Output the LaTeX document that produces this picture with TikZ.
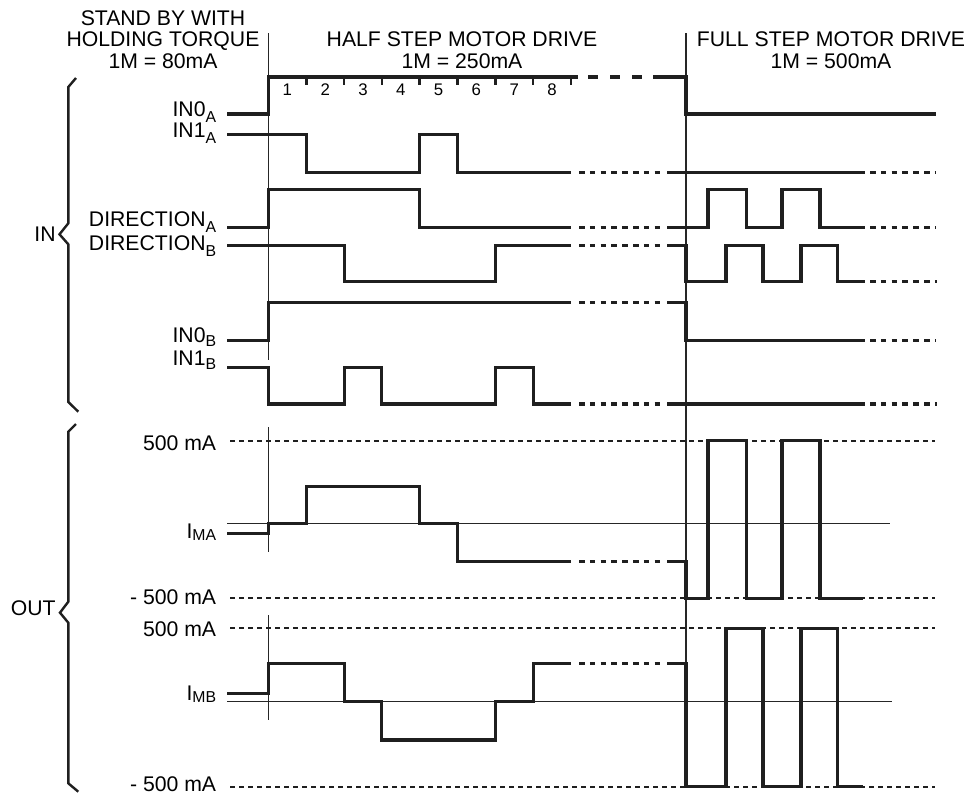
\documentclass[tikz,border=0pt]{standalone}
\usepackage{fontspec}
\setmainfont{Liberation Sans}
\newcommand{\lsub}[2][-2.6pt]{\raisebox{#1}{\fontsize{7.9}{8}\selectfont #2}}
\begin{document}
\begin{tikzpicture}[x=0.5pt,y=-0.5pt,
  sig/.style={line width=1.55pt, line join=miter, color=black!88},
  sigdash/.style={sig, dash pattern=on 2.8pt off 2.6pt},
  refdash/.style={line width=1.1pt, color=black!88, dash pattern=on 2.5pt off 2pt},
  thinline/.style={line width=0.6pt, color=black!85},
  bracestyle/.style={line width=1.2pt, line join=miter, color=black!88},
  lbl/.style={inner sep=0pt, anchor=base east, font=\fontsize{10.6}{12}\selectfont},
  malbl/.style={inner sep=0pt, anchor=east, font=\fontsize{10.6}{12}\selectfont},
  hdr/.style={inner sep=0pt, anchor=base, font=\fontsize{10.6}{12}\selectfont},
  numlbl/.style={inner sep=0pt, anchor=center, font=\fontsize{8.4}{10}\selectfont}]
\useasboundingbox (0,0) rectangle (971,793);
% time marks
\def\Tz{268.5}\def\Ta{306.3}\def\Tb{344.1}\def\Tc{381.9}\def\Td{419.7}
\def\Te{457.5}\def\Tf{495.3}\def\Tg{533.1}\def\Th{570.9}
\def\Fz{686}\def\Aa{708}\def\Ab{746.5}\def\Ac{782}\def\Ad{820}
\def\Ba{726}\def\Bb{763}\def\Bc{801}\def\Bd{837.5}
% headers
\node[hdr] (h1) at (163,25) {STAND BY WITH};
\node[hdr] (h2) at (163,46.7) {HOLDING TORQUE};
\node[hdr] (h3) at (163,68.3) {1M = 80mA};
\node[hdr] (h4) at (462,46.7) {HALF STEP MOTOR DRIVE};
\node[hdr] (h5) at (462,68.3) {1M = 250mA};
\node[hdr] (h6) at (831,46.7) {FULL STEP MOTOR DRIVE};
\node[hdr] (h7) at (831,68.3) {1M = 500mA};
% vertical thin lines
\draw[thinline] (\Tz,33) -- (\Tz,360);
\draw[thinline] (\Tz,427) -- (\Tz,552);
\draw[thinline] (\Tz,615) -- (\Tz,720);
\draw[thinline] (\Fz,33) -- (\Fz,787);
% reference lines for currents
\draw[thinline] (227,523.3) -- (890,523.3);
\draw[thinline] (227,701.7) -- (892,701.7);
\draw[refdash] (230,440.7) -- (935,440.7);
\draw[refdash] (230,598.3) -- (935,598.3);
\draw[refdash] (230,628.3) -- (935,628.3);
\draw[refdash] (230,786.7) -- (935,786.7);
% braces
\draw[bracestyle] (76,78) -- (68.3,87) -- (68.3,223.3) -- (59.5,234.3) -- (68.3,244.3) -- (68.3,402) -- (78.3,411.7);
\draw[bracestyle] (76,424) -- (68.3,431.7) -- (68.3,601.7) -- (60,612.7) -- (68.3,622.7) -- (68.3,783.3) -- (78.3,791.7);
\node[malbl] (lin) at (56,234.3) {IN};
\node[malbl] (lout) at (56,608) {OUT};
% signal labels
\node[lbl] (l1) at (216.5,116) {IN0\lsub[-3.4pt]{A}};
\node[lbl] (l2) at (216.5,137) {IN1\lsub[-3.4pt]{A}};
\node[lbl] (l3) at (216.5,226.7) {DIRECTION\lsub[-3pt]{A}};
\node[lbl] (l4) at (216.5,250) {DIRECTION\lsub[-3pt]{B}};
\node[lbl] (l5) at (216.5,342.3) {IN0\lsub[-2.2pt]{B}};
\node[lbl] (l6) at (216.5,365) {IN1\lsub[-2.2pt]{B}};
\node[lbl] (l7) at (216.5,538) {I\lsub[-1.2pt]{MA}};
\node[lbl] (l8) at (216.5,700) {I\lsub[-1.4pt]{MB}};
\node[malbl] (m1) at (216.5,443.5) {500 mA};
\node[malbl] (m2) at (216.5,597.5) {- 500 mA};
\node[malbl] (m3) at (216.5,629) {500 mA};
\node[malbl] (m4) at (216.5,784) {- 500 mA};
% step ticks and numbers
\foreach \t in {\Ta,\Tb,\Tc,\Td,\Te,\Tf,\Tg,\Th}
  \draw[line width=1.3pt, color=black!88] (\t,77) -- (\t,85);
\foreach \k in {1,...,8}
  \node[numlbl] (n\k) at ({\Tz+37.8*(\k-0.5)},89.5) {\k};
% IN0_A with step line
\draw[sig] (227,114) -- (\Tz,114) -- (\Tz,77) -- (578,77);
\draw[sig, dash pattern=on 5pt off 6pt] (588,77) -- (643,77);
\draw[sig] (653,77) -- (\Fz,77) -- (\Fz,114) -- (936,114);
% IN1_A
\draw[sig] (227,134.7) -- (\Ta,134.7) -- (\Ta,172.3) -- (\Td,172.3) -- (\Td,134.7) -- (\Te,134.7) -- (\Te,172.3) -- (\Th,172.3);
\draw[sigdash] (579,172.3) -- (663,172.3);
\draw[sig] (667,172.3) -- (865,172.3);
\draw[sigdash] (870,172.3) -- (935,172.3);
% DIRECTION_A
\draw[sig] (227,227.7) -- (\Tz,227.7) -- (\Tz,189.3) -- (\Td,189.3) -- (\Td,227.7) -- (\Th,227.7);
\draw[sigdash] (579,227.7) -- (663,227.7);
\draw[sig] (667,227.7) -- (\Aa,227.7) -- (\Aa,189.3) -- (\Ab,189.3) -- (\Ab,227.7) -- (\Ac,227.7) -- (\Ac,189.3) -- (\Ad,189.3) -- (\Ad,227.7) -- (865,227.7);
\draw[sigdash] (870,227.7) -- (935,227.7);
% DIRECTION_B
\draw[sig] (227,245.7) -- (\Tb,245.7) -- (\Tb,281.7) -- (\Tf,281.7) -- (\Tf,245.7) -- (\Th,245.7);
\draw[sigdash] (579,245.7) -- (663,245.7);
\draw[sig] (667,245.7) -- (\Fz,245.7) -- (\Fz,281.7) -- (\Ba,281.7) -- (\Ba,245.7) -- (\Bb,245.7) -- (\Bb,281.7) -- (\Bc,281.7) -- (\Bc,245.7) -- (\Bd,245.7) -- (\Bd,281.7) -- (865,281.7);
\draw[sigdash] (870,281.7) -- (937,281.7);
% IN0_B
\draw[sig] (227,340.7) -- (\Tz,340.7) -- (\Tz,302.7) -- (\Th,302.7);
\draw[sigdash] (579,302.7) -- (663,302.7);
\draw[sig] (667,302.7) -- (\Fz,302.7) -- (\Fz,340.7) -- (865,340.7);
\draw[sigdash] (870,340.7) -- (935,340.7);
% IN1_B
\draw[sig] (227,367.7) -- (\Tz,367.7) -- (\Tz,404) -- (\Tb,404) -- (\Tb,367.7) -- (\Tc,367.7) -- (\Tc,404) -- (\Tf,404) -- (\Tf,367.7) -- (\Tg,367.7) -- (\Tg,404) -- (\Th,404);
\draw[sigdash] (579,404) -- (663,404);
\draw[sig] (667,404) -- (865,404);
\draw[sigdash] (870,404) -- (937,404);
% I_MA
\draw[sig] (227,533.3) -- (\Tz,533.3) -- (\Tz,523.3) -- (\Ta,523.3) -- (\Ta,486.7) -- (\Td,486.7) -- (\Td,523.3) -- (\Te,523.3) -- (\Te,561.7) -- (\Th,561.7);
\draw[sigdash] (579,561.7) -- (663,561.7);
\draw[sig] (667,561.7) -- (\Fz,561.7) -- (\Fz,598.3) -- (\Aa,598.3) -- (\Aa,440.7) -- (\Ab,440.7) -- (\Ab,598.3) -- (\Ac,598.3) -- (\Ac,440.7) -- (\Ad,440.7) -- (\Ad,598.3) -- (863,598.3);
% I_MB
\draw[sig] (227,693.3) -- (\Tz,693.3) -- (\Tz,663.3) -- (\Tb,663.3) -- (\Tb,701.7) -- (\Tc,701.7) -- (\Tc,740) -- (\Tf,740) -- (\Tf,701.7) -- (\Tg,701.7) -- (\Tg,663.3) -- (\Th,663.3);
\draw[sigdash] (579,663.3) -- (663,663.3);
\draw[sig] (667,663.3) -- (\Fz,663.3) -- (\Fz,786.7) -- (\Ba,786.7) -- (\Ba,628.3) -- (\Bb,628.3) -- (\Bb,786.7) -- (\Bc,786.7) -- (\Bc,628.3) -- (\Bd,628.3) -- (\Bd,786.7) -- (863,786.7);
\end{tikzpicture}
\end{document}
